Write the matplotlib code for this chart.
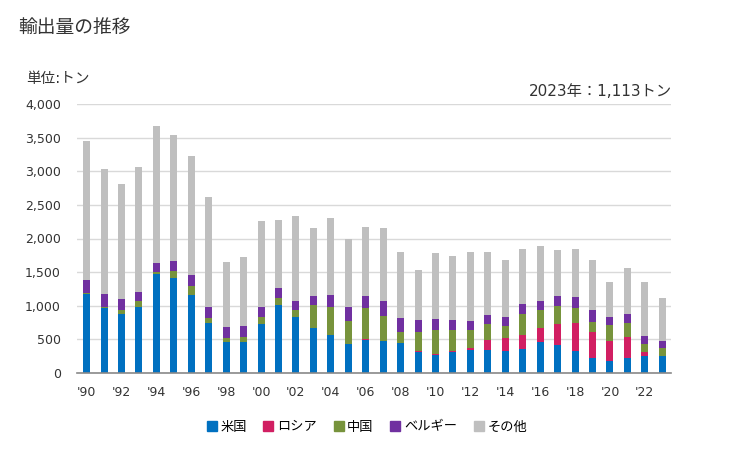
import matplotlib
matplotlib.use("Agg")
import matplotlib.pyplot as plt
from matplotlib.lines import Line2D
import numpy as np

plt.rcParams['font.family'] = ['DejaVu Sans', 'Noto Sans CJK JP']

years = list(range(1990, 2024))
usa = [1181, 966, 877, 975, 1475, 1417, 1167, 740, 461, 461, 725, 1005, 828, 667, 564, 431,
       490, 475, 446, 314, 270, 314, 343, 343, 328, 358, 461, 417, 328, 225, 181, 225, 255, 255]
russia = [0, 0, 0, 0, 0, 0, 0, 0, 0, 0, 0, 0, 0, 0, 0, 0,
          15, 0, 0, 14, 14, 14, 30, 147, 192, 206, 206, 308, 412, 383, 294, 309, 59, 0]
china = [15, 14, 54, 89, 30, 103, 132, 74, 59, 73, 103, 117, 103, 338, 411, 339,
         456, 368, 162, 280, 353, 309, 264, 235, 176, 309, 264, 265, 221, 147, 236, 206, 117, 118]
belgium = [191, 201, 162, 147, 132, 147, 162, 161, 161, 162, 147, 148, 147, 147, 192, 205,
           191, 221, 206, 176, 162, 147, 133, 133, 132, 147, 147, 162, 162, 176, 117, 133, 118, 102]
other = [2070, 1853, 1721, 1853, 2030, 1867, 1764, 1648, 971, 1029, 1280, 1000, 1250, 1000, 1132, 1015,
         1015, 1088, 985, 750, 985, 956, 1029, 941, 853, 823, 809, 676, 720, 750, 530, 691, 809, 638]

series = [("米国", usa, "#0070c0"),
          ("ロシア", russia, "#d11f62"),
          ("中国", china, "#77933c"),
          ("ベルギー", belgium, "#7030a0"),
          ("その他", other, "#bfbfbf")]

tick_years = list(range(1990, 2024, 2))
tick_labels = ["'" + str(y)[2:] for y in tick_years]

fig = plt.figure(figsize=(7.29, 4.5), dpi=100)
ax = fig.add_axes([77/729, 1-373/450, (671-77)/729, (373-104)/450])

x = np.arange(len(years))
bottom = np.zeros(len(years))
for name, vals, col in series:
    v = np.array(vals, dtype=float)
    ax.bar(x, v, width=0.4, bottom=bottom, color=col, zorder=3)
    bottom += v

ax.set_ylim(0, 4000)
ax.set_xlim(-0.55, 33.5)
ax.set_yticks(np.arange(0, 4001, 500))
ax.set_yticklabels([f"{v:,}" for v in range(0, 4001, 500)])
ax.set_xticks([years.index(y) for y in tick_years])
ax.set_xticklabels(tick_labels)
ax.tick_params(axis='both', length=0, labelsize=9, colors='#333333')
ax.tick_params(axis='y', pad=11.5)
ax.tick_params(axis='x', pad=9)
ax.grid(axis='y', color='#d9d9d9', linewidth=1.0, zorder=0)
for s in ['top', 'right', 'left']:
    ax.spines[s].set_visible(False)
ax.spines['bottom'].set_color('#898989')
ax.spines['bottom'].set_linewidth(1.2)
ax.spines['bottom'].set_zorder(4)

fig.text(18/729, 1-27/450, "輸出量の推移", fontsize=13.5, va='center', ha='left', color='#333333')
fig.text(26/729, 1-79/450, "単位:トン", fontsize=10.5, va='center', ha='left', color='#333333')
fig.text(672/729, 1-91.5/450, "2023年：1,113トン", fontsize=11, va='center', ha='right', color='#333333')

handles = [Line2D([0], [0], marker='s', linestyle='none', markersize=6.5,
                  markerfacecolor=col, markeredgecolor=col) for _, _, col in series]
labels = [name for name, _, _ in series]
fig.legend(handles, labels, loc='center', bbox_to_anchor=(367/729, 1-427/450), ncol=5,
           frameon=False, fontsize=9.5, handlelength=0.7, handletextpad=0.3, columnspacing=1.3)

fig.savefig("out.png", dpi=100)
